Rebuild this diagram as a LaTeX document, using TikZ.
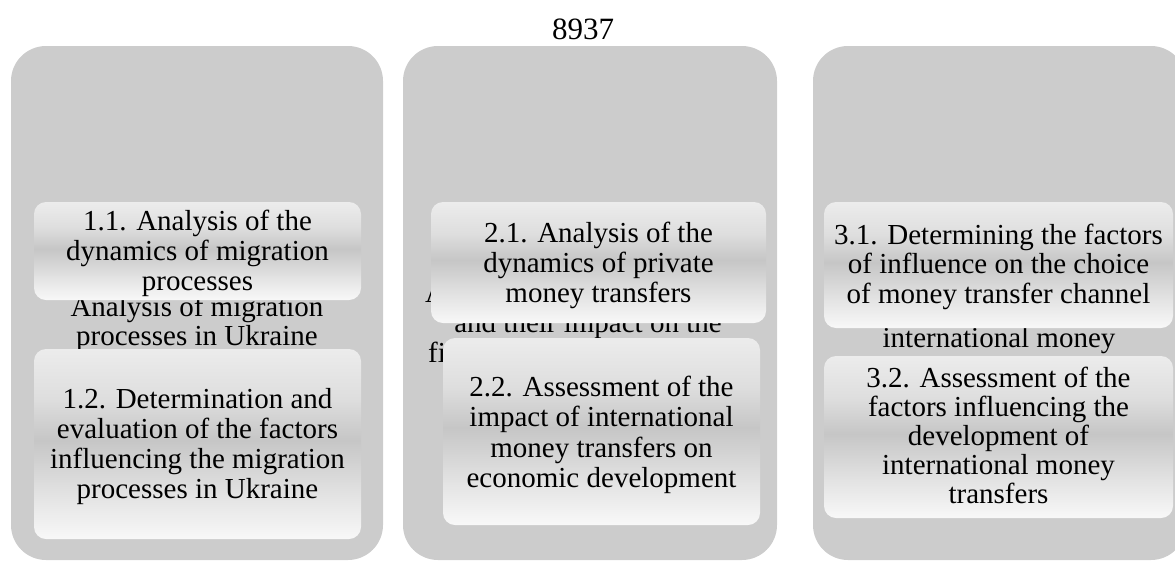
\documentclass[tikz,border=0pt]{standalone}
\usepackage{fontspec}
\setmainfont{Liberation Serif}
\usepackage{xcolor}
\usepackage{tikz}

\definecolor{panelgray}{HTML}{CCCCCC}
\definecolor{metaltop}{HTML}{ECECEC}
\definecolor{metalhigh}{HTML}{DEDEDE}
\definecolor{metalband}{HTML}{C6C6C6}
\definecolor{metallow}{HTML}{E4E4E4}
\definecolor{metalbot}{HTML}{F8F8F8}
\pgfdeclareverticalshading{metal}{100bp}{color(0bp)=(metalbot); color(25bp)=(metalbot); color(36bp)=(metallow); color(51bp)=(metalband); color(62bp)=(metalhigh); color(75bp)=(metaltop); color(100bp)=(metaltop)}

\tikzset{
  panel/.style={rectangle, rounded corners=35pt, fill=panelgray, inner sep=0pt},
  card/.style={rectangle, rounded corners=12pt, shading=metal, inner sep=0pt},
  txt/.style={inner sep=0pt, anchor=base, font=\fontsize{29}{30}\selectfont},
}

\begin{document}
\begin{tikzpicture}[x=1pt, y=-1pt]
    \useasboundingbox (0,0) rectangle (1175,560);
    \node[txt, font=\fontsize{31}{31}\selectfont] (pagenum) at (583,39) {8937};

    % Columns
    \node[panel, minimum width=372pt, minimum height=514pt] (col1) at (197,303) {};
    \node[panel, minimum width=374pt, minimum height=514pt] (col2) at (590,303) {};
    \node[panel, minimum width=373pt, minimum height=514pt] (col3) at (999.5,303) {};

    % Column headings, mostly covered by the cards
    \node[txt] (head1a) at (197,316) {Analysis of migration};
    \node[txt] (head1b) at (197,345) {processes in Ukraine};
    \node[txt, anchor=base west] (head2a) at (425,302) {A};
    \node[txt] (head2b) at (588,332) {and their impact on the};
    \node[txt, anchor=base west] (head2c) at (428,362) {fi};
    \node[txt] (head3) at (999,347) {international money};

    % Cards of column 1
    \node[card, minimum width=327pt, minimum height=98pt] (c11) at (197.5,251) {};
    \node[txt] (c11a) at (197.5,230) {1.1. Analysis of the};
    \node[txt] (c11b) at (197.5,260) {dynamics of migration};
    \node[txt] (c11c) at (197.5,290) {processes};

    \node[card, minimum width=327pt, minimum height=190pt] (c12) at (197.5,444) {};
    \node[txt] (c12a) at (197.5,408) {1.2. Determination and};
    \node[txt] (c12b) at (197.5,438) {evaluation of the factors};
    \node[txt] (c12c) at (197.5,468) {influencing the migration};
    \node[txt] (c12d) at (197.5,498) {processes in Ukraine};

    % Cards of column 2
    \node[card, minimum width=335pt, minimum height=121pt] (c21) at (598.5,262.5) {};
    \node[txt] (c21a) at (598.5,242) {2.1. Analysis of the};
    \node[txt] (c21b) at (598.5,272) {dynamics of private};
    \node[txt] (c21c) at (598.5,302) {money transfers};

    \node[card, minimum width=317pt, minimum height=187pt] (c22) at (601.5,431.5) {};
    \node[txt] (c22a) at (601.5,396) {2.2. Assessment of the};
    \node[txt] (c22b) at (601.5,426.5) {impact of international};
    \node[txt] (c22c) at (601.5,457) {money transfers on};
    \node[txt] (c22d) at (601.5,487.5) {economic development};

    % Cards of column 3
    \node[card, minimum width=349pt, minimum height=126pt] (c31) at (998.5,265) {};
    \node[txt] (c31a) at (998.5,244) {3.1. Determining the factors};
    \node[txt] (c31b) at (998.5,273.5) {of influence on the choice};
    \node[txt] (c31c) at (998.5,303) {of money transfer channel};

    \node[card, minimum width=349pt, minimum height=162pt] (c32) at (998.5,437) {};
    \node[txt] (c32a) at (998.5,387) {3.2. Assessment of the};
    \node[txt] (c32b) at (998.5,416) {factors influencing the};
    \node[txt] (c32c) at (998.5,445) {development of};
    \node[txt] (c32d) at (998.5,474) {international money};
    \node[txt] (c32e) at (998.5,503) {transfers};
\end{tikzpicture}
\end{document}
